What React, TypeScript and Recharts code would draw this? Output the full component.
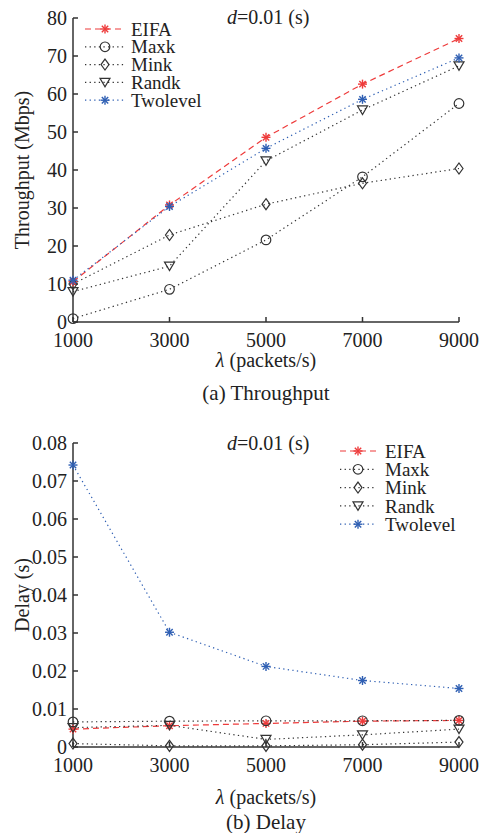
import React from "react";
import { LineChart, Line, XAxis, YAxis } from "recharts";

const lambdas = [1000, 3000, 5000, 7000, 9000];

// Throughput (Mbps)
const eifaThr = [10.6, 30.8, 48.6, 62.6, 74.6];
const maxkThr = [0.9, 8.6, 21.6, 38.2, 57.5];
const minkThr = [10.0, 22.9, 31.0, 36.5, 40.4];
const randkThr = [8.0, 14.7, 42.4, 55.8, 67.4];
const twoThr = [11.0, 30.4, 45.7, 58.6, 69.5];

// Delay (s)
const eifaDelay = [0.0047, 0.0056, 0.0062, 0.0068, 0.007];
const maxkDelay = [0.0066, 0.0068, 0.0069, 0.0069, 0.007];
const minkDelay = [0.0009, 0.0003, 0.0003, 0.0006, 0.0013];
const randkDelay = [0.0051, 0.0057, 0.002, 0.0032, 0.0047];
const twoDelay = [0.0742, 0.0302, 0.0212, 0.0175, 0.0154];

const thrTicks = [0, 10, 20, 30, 40, 50, 60, 70, 80];
const delayTicks = [0, 0.01, 0.02, 0.03, 0.04, 0.05, 0.06, 0.07, 0.08];

const FONT = "'Liberation Serif', 'DejaVu Serif', serif";
const RED = "#ee3b3b";
const BLUE = "#2f5fb3";
const BLACK = "#333";

type Shape = "star" | "circle" | "diamond" | "triangle";

const series: { key: string; name: string; color: string; shape: Shape; dash: string }[] = [
  { key: "eifa", name: "EIFA", color: RED, shape: "star", dash: "6 4" },
  { key: "maxk", name: "Maxk", color: BLACK, shape: "circle", dash: "1.3 3.3" },
  { key: "mink", name: "Mink", color: BLACK, shape: "diamond", dash: "1.3 3.3" },
  { key: "randk", name: "Randk", color: BLACK, shape: "triangle", dash: "1.3 3.3" },
  { key: "two", name: "Twolevel", color: BLUE, shape: "star", dash: "1.3 3.3" },
];

const thrData = lambdas.map((l, i) => ({
  lambda: l,
  eifa: eifaThr[i],
  maxk: maxkThr[i],
  mink: minkThr[i],
  randk: randkThr[i],
  two: twoThr[i],
}));

const delayData = lambdas.map((l, i) => ({
  lambda: l,
  eifa: eifaDelay[i],
  maxk: maxkDelay[i],
  mink: minkDelay[i],
  randk: randkDelay[i],
  two: twoDelay[i],
}));

const Marker = ({ cx, cy, shape, color }: { cx: number; cy: number; shape: Shape; color: string }) => {
  if (cx == null || cy == null) return null;
  if (shape === "star") {
    const r = 4.5;
    const d = r * 0.707;
    return (
      <g stroke={color} strokeWidth={1.4}>
        <line x1={cx - r} y1={cy} x2={cx + r} y2={cy} />
        <line x1={cx} y1={cy - r} x2={cx} y2={cy + r} />
        <line x1={cx - d} y1={cy - d} x2={cx + d} y2={cy + d} />
        <line x1={cx - d} y1={cy + d} x2={cx + d} y2={cy - d} />
      </g>
    );
  }
  if (shape === "circle") {
    return <circle cx={cx} cy={cy} r={4.8} fill="none" stroke={color} strokeWidth={1.2} />;
  }
  if (shape === "diamond") {
    return (
      <polygon
        points={`${cx},${cy - 5.5} ${cx + 4},${cy} ${cx},${cy + 5.5} ${cx - 4},${cy}`}
        fill="none"
        stroke={color}
        strokeWidth={1.2}
      />
    );
  }
  return (
    <polygon
      points={`${cx - 5},${cy - 4} ${cx + 5},${cy - 4} ${cx},${cy + 4.5}`}
      fill="none"
      stroke={color}
      strokeWidth={1.2}
    />
  );
};

const LegendBox = ({ x0, x1, tx, y0, step }: { x0: number; x1: number; tx: number; y0: number; step: number }) => (
  <g>
    {series.map((s, i) => {
      const y = y0 + i * step;
      return (
        <g key={s.key}>
          <line x1={x0} y1={y} x2={x1} y2={y} stroke={s.color} strokeWidth={1.2} strokeDasharray={s.dash} />
          <Marker cx={(x0 + x1) / 2} cy={y} shape={s.shape} color={s.color} />
          <text x={tx} y={y} dy="0.35em" fontSize={19} fontFamily={FONT} fill="#222">
            {s.name}
          </text>
        </g>
      );
    })}
  </g>
);

const tickStyle = { fontSize: 20, fontFamily: FONT, fill: "#222" };

const Panel = ({
  data,
  ticks,
  domain,
  fmt,
  legend,
}: {
  data: any[];
  ticks: number[];
  domain: [number, number];
  fmt: (v: number) => string;
  legend: React.ReactNode;
}) => (
  <LineChart width={487} height={352} data={data} margin={{ top: 18, right: 28, bottom: 0, left: 0 }}>
    <XAxis
      dataKey="lambda"
      type="number"
      domain={[1000, 9000]}
      ticks={lambdas}
      tick={tickStyle}
      tickSize={-5}
      tickMargin={16}
      height={30}
      stroke={BLACK}
      strokeWidth={1.5}
      interval={0}
    />
    <YAxis
      type="number"
      domain={domain}
      ticks={ticks}
      tickFormatter={fmt}
      tick={tickStyle}
      tickSize={-5}
      tickMargin={11}
      width={73}
      stroke={BLACK}
      strokeWidth={1.5}
      interval={0}
    />
    {series.map((s) => (
      <Line
        key={s.key}
        dataKey={s.key}
        name={s.name}
        type="linear"
        stroke={s.color}
        strokeWidth={1.2}
        strokeDasharray={s.dash}
        isAnimationActive={false}
        dot={(p: any) => <Marker key={`${s.key}-${p.index}`} cx={p.cx} cy={p.cy} shape={s.shape} color={s.color} />}
        activeDot={false}
      />
    ))}
    {legend}
  </LineChart>
);

const txt = (extra: React.CSSProperties): React.CSSProperties => ({
  position: "absolute",
  fontFamily: FONT,
  fontSize: 20,
  color: "#222",
  whiteSpace: "nowrap",
  lineHeight: "24px",
  ...extra,
});

const Anno = ({ top }: { top: number }) => (
  <div style={txt({ left: 227, top: top - 12 })}>
    <i>d</i>=0.01 (s)
  </div>
);

const XLabel = ({ top }: { top: number }) => (
  <div style={txt({ left: 0, width: 532, textAlign: "center", top: top - 12 })}>
    <i>λ</i> (packets/s)
  </div>
);

const Caption = ({ top, text }: { top: number; text: string }) => (
  <div style={txt({ left: 0, width: 532, textAlign: "center", top: top - 12, fontSize: 21 })}>{text}</div>
);

const YLabel = ({ cy, text }: { cy: number; text: string }) => (
  <div
    style={txt({
      left: 22,
      top: cy,
      transform: "translate(-50%, -50%) rotate(-90deg)",
    })}
  >
    {text}
  </div>
);

export default function App() {
  return (
    <div style={{ position: "absolute", left: 0, top: 0, width: 487, height: 833, background: "#fff" }}>
      <div style={{ position: "absolute", left: 0, top: 0 }}>
        <Panel
          data={thrData}
          ticks={thrTicks}
          domain={[0, 80]}
          fmt={(v) => String(v)}
          legend={<LegendBox x0={85} x1={125} tx={131} y0={29} step={17.8} />}
        />
      </div>
      <div style={{ position: "absolute", left: 0, top: 425 }}>
        <Panel
          data={delayData}
          ticks={delayTicks}
          domain={[0, 0.08]}
          fmt={(v) => (v === 0 ? "0" : v.toFixed(2))}
          legend={<LegendBox x0={340} x1={376} tx={385} y0={26} step={18.3} />}
        />
      </div>
      <Anno top={17} />
      <Anno top={443} />
      <YLabel cy={170} text="Throughput (Mbps)" />
      <YLabel cy={595} text="Delay (s)" />
      <XLabel top={360} />
      <XLabel top={797} />
      <Caption top={393} text="(a) Throughput" />
      <Caption top={822} text="(b) Delay" />
    </div>
  );
}
